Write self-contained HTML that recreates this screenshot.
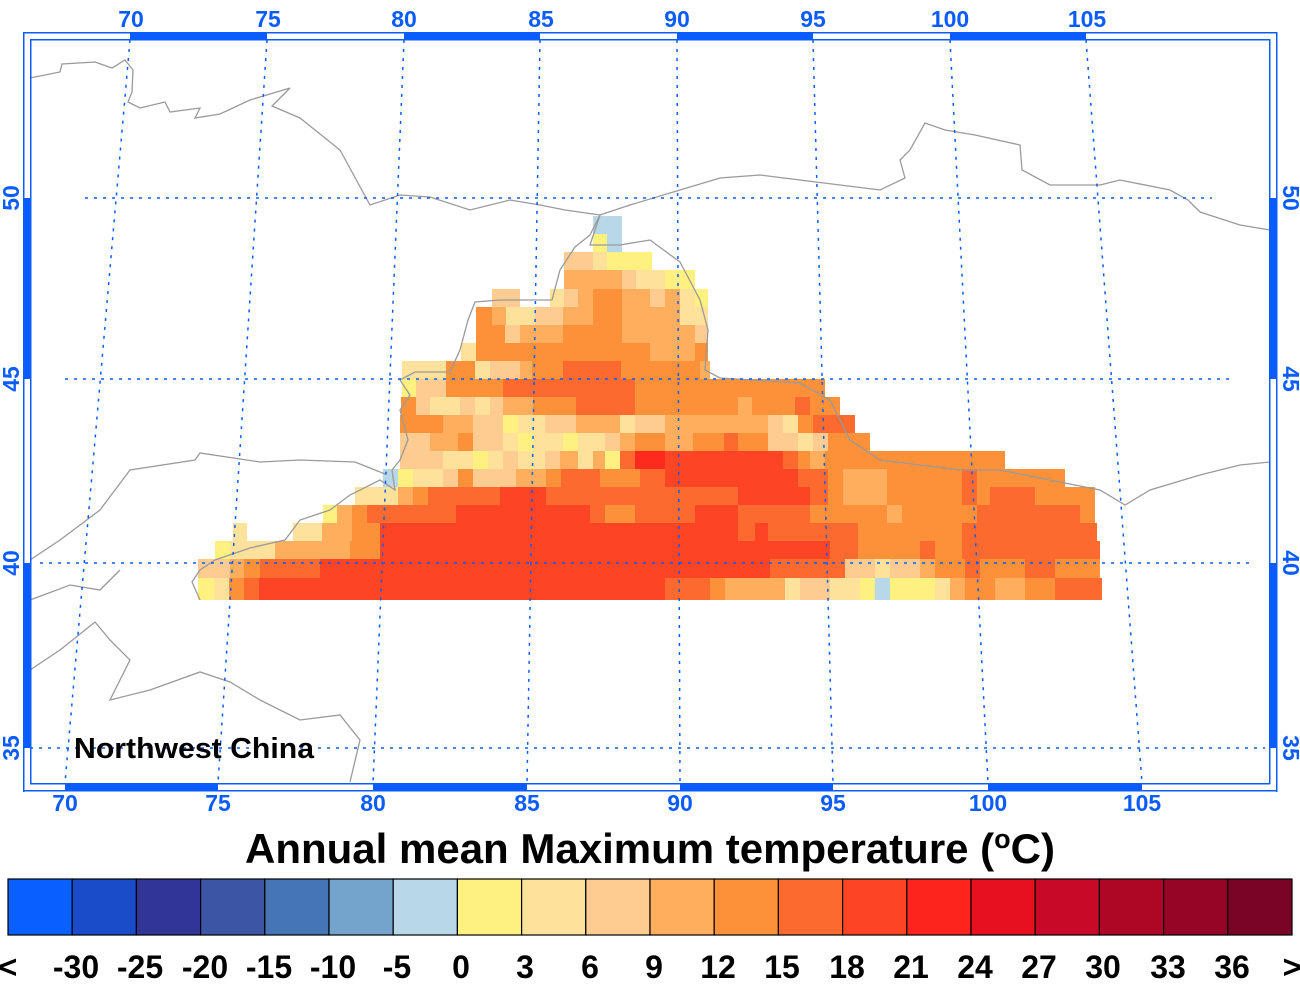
<!DOCTYPE html>
<html><head><meta charset="utf-8"><style>
body{margin:0;background:#fff;}
svg{display:block;font-family:"Liberation Sans",Arial,sans-serif;font-weight:bold;}
.Y{fill:#fff17f}.LY{fill:#fee19a}.P{fill:#fecb91}.LO{fill:#feae5c}.O{fill:#fd913a}.DO{fill:#fc6a30}.R{fill:#fd4424}.BR{fill:#ff2a1e}.LB{fill:#b8d8e8}
g.r rect{height:19px}
</style></head><body>
<svg width="1300" height="986" viewBox="0 0 1300 986">
<g class="r" transform="translate(0,216)"><rect x="593" width="29" class="LB"/></g>
<g class="r" transform="translate(0,234)"><rect x="593" width="14" class="Y"/><rect x="607" width="15" class="LB"/></g>
<g class="r" transform="translate(0,252)"><rect x="564" width="29" class="P"/><rect x="593" width="14" class="LY"/><rect x="607" width="45" class="Y"/></g>
<g class="r" transform="translate(0,270)"><rect x="564" width="58" class="LO"/><rect x="622" width="14" class="P"/><rect x="636" width="29" class="LY"/><rect x="665" width="30" class="Y"/></g>
<g class="r" transform="translate(0,289)"><rect x="492" width="28" class="P"/><rect x="550" width="14" class="LY"/><rect x="564" width="14" class="P"/><rect x="578" width="15" class="LO"/><rect x="593" width="29" class="O"/><rect x="622" width="28" class="LO"/><rect x="650" width="15" class="P"/><rect x="665" width="15" class="LO"/><rect x="680" width="15" class="LY"/><rect x="695" width="13" class="Y"/></g>
<g class="r" transform="translate(0,307)"><rect x="476" width="16" class="O"/><rect x="492" width="14" class="LO"/><rect x="506" width="29" class="LY"/><rect x="535" width="28" class="P"/><rect x="563" width="30" class="LO"/><rect x="593" width="29" class="O"/><rect x="622" width="58" class="LO"/><rect x="680" width="28" class="LY"/></g>
<g class="r" transform="translate(0,325)"><rect x="476" width="29" class="O"/><rect x="505" width="15" class="P"/><rect x="520" width="43" class="LO"/><rect x="563" width="59" class="O"/><rect x="622" width="73" class="LO"/><rect x="695" width="13" class="P"/></g>
<g class="r" transform="translate(0,343)"><rect x="461" width="15" class="LY"/><rect x="476" width="174" class="O"/><rect x="650" width="45" class="LO"/><rect x="695" width="13" class="O"/></g>
<g class="r" transform="translate(0,361)"><rect x="402" width="44" class="LY"/><rect x="446" width="29" class="O"/><rect x="475" width="15" class="LY"/><rect x="490" width="30" class="P"/><rect x="520" width="12" class="LO"/><rect x="532" width="31" class="O"/><rect x="563" width="58" class="DO"/><rect x="621" width="79" class="O"/><rect x="700" width="10" class="LO"/></g>
<g class="r" transform="translate(0,379)"><rect x="402" width="14" class="Y"/><rect x="416" width="30" class="P"/><rect x="446" width="57" class="O"/><rect x="503" width="132" class="DO"/><rect x="635" width="190" class="O"/></g>
<g class="r" transform="translate(0,397)"><rect x="401" width="15" class="O"/><rect x="416" width="14" class="P"/><rect x="430" width="30" class="LY"/><rect x="460" width="15" class="P"/><rect x="475" width="15" class="LY"/><rect x="490" width="13" class="P"/><rect x="503" width="30" class="LO"/><rect x="533" width="43" class="O"/><rect x="576" width="59" class="DO"/><rect x="635" width="103" class="O"/><rect x="738" width="14" class="LO"/><rect x="752" width="43" class="O"/><rect x="795" width="15" class="DO"/><rect x="810" width="30" class="O"/></g>
<g class="r" transform="translate(0,415)"><rect x="400" width="43" class="O"/><rect x="443" width="30" class="LO"/><rect x="473" width="30" class="P"/><rect x="503" width="15" class="Y"/><rect x="518" width="27" class="LY"/><rect x="545" width="31" class="P"/><rect x="576" width="44" class="LO"/><rect x="620" width="15" class="LY"/><rect x="635" width="30" class="P"/><rect x="665" width="103" class="LO"/><rect x="768" width="15" class="P"/><rect x="783" width="15" class="LY"/><rect x="798" width="15" class="O"/><rect x="813" width="42" class="DO"/></g>
<g class="r" transform="translate(0,433)"><rect x="400" width="30" class="P"/><rect x="430" width="28" class="LO"/><rect x="458" width="15" class="O"/><rect x="473" width="30" class="P"/><rect x="503" width="15" class="LY"/><rect x="518" width="15" class="Y"/><rect x="533" width="30" class="LY"/><rect x="563" width="15" class="Y"/><rect x="578" width="27" class="LY"/><rect x="605" width="15" class="P"/><rect x="620" width="15" class="LO"/><rect x="635" width="30" class="O"/><rect x="665" width="28" class="LO"/><rect x="693" width="31" class="O"/><rect x="724" width="14" class="DO"/><rect x="738" width="30" class="O"/><rect x="768" width="30" class="P"/><rect x="798" width="15" class="LY"/><rect x="813" width="15" class="P"/><rect x="828" width="42" class="O"/></g>
<g class="r" transform="translate(0,451)"><rect x="400" width="43" class="P"/><rect x="443" width="30" class="LY"/><rect x="473" width="15" class="Y"/><rect x="488" width="15" class="LY"/><rect x="503" width="15" class="P"/><rect x="518" width="27" class="LY"/><rect x="545" width="15" class="P"/><rect x="560" width="18" class="LO"/><rect x="578" width="15" class="LY"/><rect x="593" width="12" class="LO"/><rect x="605" width="15" class="Y"/><rect x="620" width="15" class="DO"/><rect x="635" width="30" class="BR"/><rect x="665" width="118" class="R"/><rect x="783" width="15" class="DO"/><rect x="798" width="12" class="O"/><rect x="810" width="15" class="LO"/><rect x="825" width="45" class="O"/><rect x="870" width="62" class="O"/><rect x="932" width="73" class="O"/></g>
<g class="r" transform="translate(0,469)"><rect x="383" width="15" class="LB"/><rect x="398" width="15" class="Y"/><rect x="413" width="30" class="LY"/><rect x="443" width="15" class="P"/><rect x="458" width="15" class="O"/><rect x="473" width="43" class="P"/><rect x="516" width="30" class="LO"/><rect x="546" width="15" class="O"/><rect x="561" width="39" class="DO"/><rect x="600" width="40" class="O"/><rect x="640" width="25" class="DO"/><rect x="665" width="133" class="R"/><rect x="798" width="30" class="DO"/><rect x="828" width="15" class="O"/><rect x="843" width="44" class="LO"/><rect x="887" width="75" class="O"/><rect x="962" width="15" class="DO"/><rect x="977" width="88" class="O"/></g>
<g class="r" transform="translate(0,487)"><rect x="355" width="43" class="LY"/><rect x="398" width="15" class="LO"/><rect x="413" width="15" class="O"/><rect x="428" width="72" class="DO"/><rect x="500" width="46" class="R"/><rect x="546" width="192" class="DO"/><rect x="738" width="72" class="R"/><rect x="810" width="18" class="DO"/><rect x="828" width="15" class="O"/><rect x="843" width="44" class="LO"/><rect x="887" width="75" class="O"/><rect x="962" width="15" class="DO"/><rect x="977" width="13" class="O"/><rect x="990" width="45" class="DO"/><rect x="1035" width="60" class="O"/></g>
<g class="r" transform="translate(0,505)"><rect x="323" width="14" class="Y"/><rect x="337" width="15" class="LO"/><rect x="352" width="15" class="O"/><rect x="367" width="89" class="DO"/><rect x="456" width="134" class="R"/><rect x="590" width="15" class="DO"/><rect x="605" width="30" class="O"/><rect x="635" width="60" class="DO"/><rect x="695" width="43" class="R"/><rect x="738" width="72" class="DO"/><rect x="810" width="77" class="O"/><rect x="887" width="15" class="LO"/><rect x="902" width="75" class="O"/><rect x="977" width="103" class="DO"/><rect x="1080" width="15" class="O"/></g>
<g class="r" transform="translate(0,523)"><rect x="233" width="14" class="LY"/><rect x="293" width="29" class="LY"/><rect x="322" width="30" class="LO"/><rect x="352" width="28" class="O"/><rect x="380" width="358" class="R"/><rect x="738" width="17" class="DO"/><rect x="755" width="13" class="R"/><rect x="768" width="90" class="DO"/><rect x="858" width="104" class="O"/><rect x="962" width="135" class="DO"/></g>
<g class="r" transform="translate(0,541)"><rect x="215" width="15" class="Y"/><rect x="230" width="45" class="LY"/><rect x="275" width="75" class="LO"/><rect x="350" width="30" class="O"/><rect x="380" width="450" class="R"/><rect x="830" width="28" class="DO"/><rect x="858" width="62" class="O"/><rect x="920" width="15" class="DO"/><rect x="935" width="27" class="O"/><rect x="962" width="138" class="DO"/></g>
<g class="r" transform="translate(0,559)"><rect x="198" width="32" class="P"/><rect x="230" width="14" class="LO"/><rect x="244" width="16" class="O"/><rect x="260" width="60" class="DO"/><rect x="320" width="450" class="R"/><rect x="770" width="75" class="DO"/><rect x="845" width="30" class="P"/><rect x="875" width="15" class="LY"/><rect x="890" width="30" class="P"/><rect x="920" width="15" class="LO"/><rect x="935" width="30" class="O"/><rect x="965" width="15" class="DO"/><rect x="980" width="45" class="O"/><rect x="1025" width="30" class="DO"/><rect x="1055" width="45" class="O"/></g>
<g class="r" transform="translate(0,578)"><rect x="198" width="16" class="Y" style="height:22px"/><rect x="214" width="15" class="LY" style="height:22px"/><rect x="229" width="15" class="O" style="height:22px"/><rect x="244" width="15" class="DO" style="height:22px"/><rect x="259" width="406" class="R" style="height:22px"/><rect x="665" width="45" class="DO" style="height:22px"/><rect x="710" width="15" class="O" style="height:22px"/><rect x="725" width="60" class="LO" style="height:22px"/><rect x="785" width="15" class="LY" style="height:22px"/><rect x="800" width="30" class="P" style="height:22px"/><rect x="830" width="30" class="LY" style="height:22px"/><rect x="860" width="15" class="Y" style="height:22px"/><rect x="875" width="15" class="LB" style="height:22px"/><rect x="890" width="45" class="Y" style="height:22px"/><rect x="935" width="15" class="LY" style="height:22px"/><rect x="950" width="15" class="LO" style="height:22px"/><rect x="965" width="30" class="O" style="height:22px"/><rect x="995" width="30" class="LO" style="height:22px"/><rect x="1025" width="30" class="O" style="height:22px"/><rect x="1055" width="47" class="DO" style="height:22px"/></g>

<g fill="none" stroke="#9a9a9a" stroke-width="1.3">
<polyline points="30,78 60,72 62,64 95,62 112,68 125,60 133,70 132,92 128,102 140,108 165,102 170,112 200,108 195,118 220,114 250,100 290,88 272,106 300,118 340,150 370,205 400,195 430,197 470,210 510,200 540,205 565,210 600,215 630,205 680,190 720,178 760,175 800,180 880,190 905,178 900,160 910,150 925,123 945,130 975,135 1020,145 1022,170 1050,185 1100,185 1120,180 1170,190 1188,200 1200,212 1240,225 1270,230"/>
<polyline points="600,215 590,235 575,247 560,270 552,300 530,300 500,300 475,302 468,320 460,350 450,372 415,372 400,380 410,395 400,410 408,440 400,460 392,470 395,490 380,480 350,495 330,510 300,520 285,540 250,548 215,560 200,570 192,582 200,600"/>
<polyline points="600,215 590,245 620,245 650,240 680,262 700,300 708,330 705,370 720,378 800,383 830,400 840,420 850,440 880,460 960,470 1000,470 1050,480 1100,490 1125,505 1150,490 1200,475 1240,465 1270,462"/>
<polyline points="30,560 60,540 100,510 130,470 195,460 200,453 260,462 300,460 355,462 370,468 385,474"/>
<polyline points="30,670 60,650 95,622 110,640 130,660 110,700 150,690 200,672 230,682 260,700 300,720 340,715 360,740 350,782"/>
<polyline points="30,600 70,585 100,590 120,570"/>
</g>

<g fill="none" stroke="#0a5cff" stroke-width="1.5" stroke-dasharray="3,6">
<line x1="130" y1="40" x2="65" y2="783"/><line x1="267" y1="40" x2="218" y2="783"/><line x1="404" y1="40" x2="373" y2="783"/><line x1="540" y1="40" x2="527" y2="783"/><line x1="677" y1="40" x2="680" y2="783"/><line x1="813" y1="40" x2="833" y2="783"/><line x1="950" y1="40" x2="988" y2="783"/><line x1="1086" y1="40" x2="1142" y2="783"/>
<line x1="85" y1="198" x2="1212" y2="198"/><line x1="65" y1="379" x2="1235" y2="379"/><line x1="40" y1="563" x2="1250" y2="563"/><line x1="30" y1="748" x2="1265" y2="748"/>
</g>

<g fill="#0a5cff">
<rect x="23" y="32" width="1254" height="1.5"/><rect x="30" y="39" width="1240" height="1.5"/>
<rect x="23" y="790" width="1254" height="1.5"/><rect x="30" y="783" width="1240" height="1.5"/>
<rect x="23" y="32" width="1.5" height="760"/><rect x="30" y="39" width="1.5" height="745"/>
<rect x="1276" y="32" width="1.5" height="760"/><rect x="1269" y="39" width="1.5" height="745"/>
<rect x="130" y="32" width="137" height="8"/><rect x="404" y="32" width="136" height="8"/><rect x="677" y="32" width="136" height="8"/><rect x="950" y="32" width="136" height="8"/>
<rect x="65" y="783" width="153" height="8"/><rect x="373" y="783" width="154" height="8"/><rect x="680" y="783" width="153" height="8"/><rect x="988" y="783" width="154" height="8"/>
<rect x="23" y="198" width="8" height="181"/><rect x="23" y="563" width="8" height="185"/>
<rect x="1269" y="198" width="8" height="181"/><rect x="1269" y="563" width="8" height="185"/>
</g>
<g fill="#0a5cff" font-size="23" text-anchor="middle">
<text x="131" y="27">70</text><text x="268" y="27">75</text><text x="404" y="27">80</text><text x="541" y="27">85</text><text x="677" y="27">90</text><text x="813" y="27">95</text><text x="950" y="27">100</text><text x="1087" y="27">105</text>
<text x="65" y="811">70</text><text x="218" y="811">75</text><text x="373" y="811">80</text><text x="527" y="811">85</text><text x="680" y="811">90</text><text x="833" y="811">95</text><text x="988" y="811">100</text><text x="1142" y="811">105</text>
<text transform="translate(19,198) rotate(-90)">50</text><text transform="translate(19,379) rotate(-90)">45</text><text transform="translate(19,563) rotate(-90)">40</text><text transform="translate(19,748) rotate(-90)">35</text>
<text transform="translate(1283,198) rotate(90)">50</text><text transform="translate(1283,379) rotate(90)">45</text><text transform="translate(1283,563) rotate(90)">40</text><text transform="translate(1283,748) rotate(90)">35</text>
</g>
<text x="74" y="758" font-size="29" fill="#000" textLength="240" lengthAdjust="spacingAndGlyphs">Northwest China</text>
<text x="650" y="863" font-size="42" fill="#000" text-anchor="middle">Annual mean Maximum temperature (<tspan font-size="27" dy="-15">o</tspan><tspan dy="15">C)</tspan></text>

<g stroke="#000" stroke-width="1.2">
<rect x="8" y="879" width="64.2" height="56" fill="#0a60ff"/>
<rect x="72.2" y="879" width="64.2" height="56" fill="#1a4cc9"/>
<rect x="136.4" y="879" width="64.2" height="56" fill="#313696"/>
<rect x="200.6" y="879" width="64.2" height="56" fill="#3c55a4"/>
<rect x="264.8" y="879" width="64.2" height="56" fill="#4575b4"/>
<rect x="329" y="879" width="64.2" height="56" fill="#74a3cc"/>
<rect x="393.2" y="879" width="64.2" height="56" fill="#b8d8e8"/>
<rect x="457.4" y="879" width="64.2" height="56" fill="#fff17f"/>
<rect x="521.6" y="879" width="64.2" height="56" fill="#fee19a"/>
<rect x="585.8" y="879" width="64.2" height="56" fill="#fecb91"/>
<rect x="650" y="879" width="64.2" height="56" fill="#feae5c"/>
<rect x="714.2" y="879" width="64.2" height="56" fill="#fd913a"/>
<rect x="778.4" y="879" width="64.2" height="56" fill="#fc6a30"/>
<rect x="842.6" y="879" width="64.2" height="56" fill="#fd4424"/>
<rect x="906.8" y="879" width="64.2" height="56" fill="#fe241e"/>
<rect x="971" y="879" width="64.2" height="56" fill="#e61020"/>
<rect x="1035.2" y="879" width="64.2" height="56" fill="#c80a28"/>
<rect x="1099.4" y="879" width="64.2" height="56" fill="#ae0726"/>
<rect x="1163.6" y="879" width="64.2" height="56" fill="#960525"/>
<rect x="1227.8" y="879" width="64.2" height="56" fill="#7a0425"/>
</g>
<g font-size="32" fill="#000" text-anchor="middle">
<text x="8" y="978">&lt;</text><text x="76" y="978">-30</text><text x="140" y="978">-25</text><text x="205" y="978">-20</text><text x="269" y="978">-15</text><text x="333" y="978">-10</text><text x="397" y="978">-5</text><text x="461" y="978">0</text><text x="525" y="978">3</text><text x="590" y="978">6</text><text x="654" y="978">9</text><text x="718" y="978">12</text><text x="782" y="978">15</text><text x="847" y="978">18</text><text x="911" y="978">21</text><text x="975" y="978">24</text><text x="1039" y="978">27</text><text x="1103" y="978">30</text><text x="1168" y="978">33</text><text x="1232" y="978">36</text><text x="1292" y="978">&gt;</text>
</g>
</svg>
</body></html>
